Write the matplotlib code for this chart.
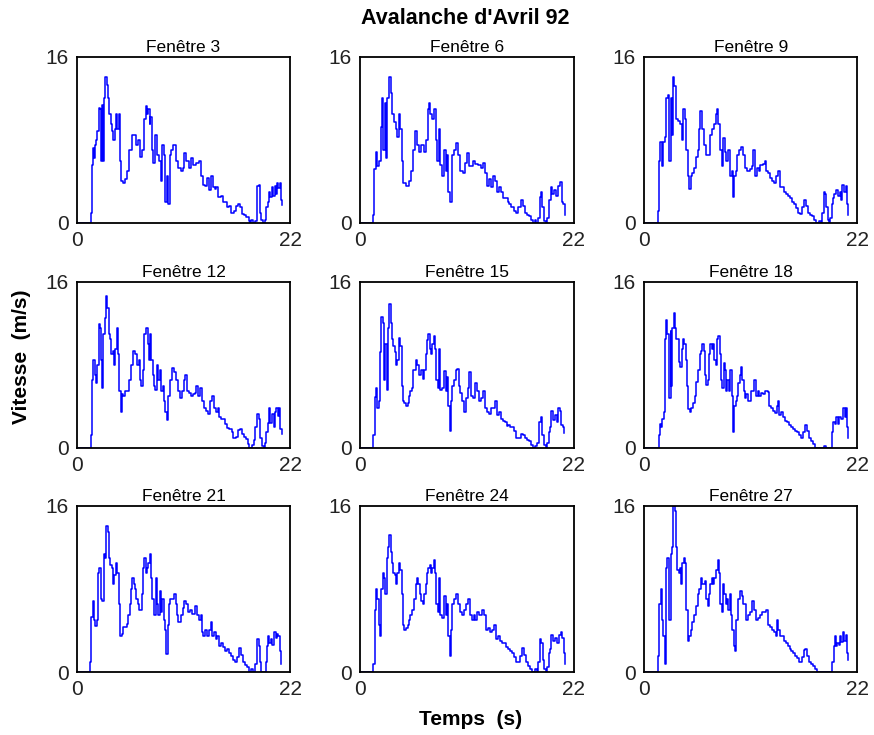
import matplotlib
matplotlib.use('Agg')
import matplotlib.pyplot as plt

# vitesse (m/s) en fonction du temps (s), une liste par fenetre
t3 = [0, 1.3, 1.44, 1.58, 1.72, 1.79, 1.93, 2.0, 2.13, 2.27,
      2.41, 2.55, 2.61, 2.68, 2.82, 2.96, 3.09, 3.23, 3.37, 3.5,
      3.64, 3.78, 3.92, 4.06, 4.19, 4.33, 4.47, 4.6, 4.74, 4.98,
      5.2, 5.4, 5.7, 5.9, 6.1, 6.3, 6.5, 6.7, 6.9, 7.1,
      7.2, 7.35, 7.5, 7.6, 7.8, 7.9, 8.1, 8.3, 8.45, 8.66,
      8.8, 8.94, 9.1, 9.28, 9.42, 9.56, 9.76, 9.97, 10.2, 10.4,
      10.7, 10.9, 11.1, 11.3, 11.55, 11.75, 12.0, 12.3, 12.6, 12.8,
      13.0, 13.2, 13.4, 13.6, 13.8, 14.0, 14.2, 14.4, 14.6, 14.85,
      15.05, 15.25, 15.5, 15.7, 15.9, 16.2, 16.4, 16.6, 16.8, 17.0,
      17.2, 17.4, 17.7, 17.9, 18.0, 18.15, 18.4, 18.6, 18.8, 18.9,
      19.0, 19.2, 19.4, 19.5, 19.7, 19.8, 19.9, 20.1, 20.25, 20.4,
      20.5, 20.6, 20.75, 20.9, 21.0, 21.1]
v3 = [0, 0, 1.0, 5.6, 7.2, 6.2, 7.5, 8.0, 8.8, 11.1,
      11.0, 6.0, 11.3, 6.0, 12.0, 14.0, 13.3, 12.0, 10.5, 9.5,
      8.8, 8.0, 9.0, 10.5, 9.0, 10.5, 6.0, 4.0, 3.8, 4.2,
      5.0, 7.0, 8.5, 8.5, 7.5, 8.0, 6.3, 7.0, 10.0, 11.2,
      10.5, 11.0, 9.5, 10.2, 7.0, 5.8, 8.5, 6.5, 6.0, 4.0,
      7.5, 6.5, 2.0, 4.5, 1.8, 6.5, 7.0, 7.5, 6.0, 5.3,
      5.0, 5.3, 6.7, 6.0, 5.3, 6.2, 5.6, 5.8, 6.0, 4.5,
      3.7, 3.6, 4.3, 3.2, 4.5, 3.5, 3.3, 3.5, 2.5, 2.6,
      2.0, 2.0, 1.5, 1.6, 1.0, 1.2, 1.6, 1.8, 1.5, 0.9,
      0.8, 0.6, 0.2, 0, 0.3, 0, 0.2, 3.6, 3.7, 1.0,
      0.3, 0, 0.3, 1.5, 2.0, 3.0, 2.5, 3.5, 2.6, 3.6,
      2.8, 3.8, 3.4, 3.8, 2.2, 1.7]

t6 = [0, 1.24, 1.31, 1.45, 1.66, 1.79, 2.0, 2.14, 2.28, 2.41,
      2.55, 2.69, 2.83, 3.03, 3.17, 3.31, 3.52, 3.66, 3.79, 4.0,
      4.14, 4.3, 4.48, 4.7, 5.0, 5.3, 5.5, 5.7, 5.9, 6.1,
      6.3, 6.55, 6.76, 6.97, 7.1, 7.24, 7.45, 7.6, 7.8, 7.97,
      8.14, 8.28, 8.48, 8.62, 8.83, 9.0, 9.1, 9.24, 9.45, 9.66,
      9.93, 10.1, 10.3, 10.6, 10.8, 11.0, 11.2, 11.45, 11.66, 11.9,
      12.2, 12.5, 12.7, 12.9, 13.1, 13.3, 13.5, 13.7, 13.9, 14.1,
      14.3, 14.55, 14.76, 14.97, 15.2, 15.4, 15.6, 15.9, 16.07, 16.3,
      16.55, 16.76, 16.97, 17.2, 17.4, 17.6, 17.8, 18.0, 18.1, 18.3,
      18.5, 18.6, 18.8, 18.97, 19.2, 19.3, 19.5, 19.66, 19.8, 20.0,
      20.2, 20.4, 20.6, 20.8, 20.9, 21.1]
v6 = [0, 0, 0.8, 5.2, 6.8, 5.5, 6.0, 9.2, 12.0, 7.0,
      11.5, 6.2, 12.0, 14.0, 12.5, 10.5, 9.7, 9.0, 8.3, 10.5,
      9.0, 6.0, 3.8, 3.6, 4.0, 5.0, 7.0, 8.8, 7.5, 6.8,
      7.5, 6.8, 8.0, 11.0, 11.5, 10.5, 10.0, 11.0, 8.0, 6.0,
      9.0, 5.6, 4.5, 7.0, 5.0, 6.5, 3.0, 2.0, 6.5, 7.0,
      7.7, 6.5, 5.0, 4.8, 5.8, 6.7, 5.5, 5.5, 6.0, 5.7,
      5.6, 5.3, 5.8, 4.8, 3.6, 4.2, 3.5, 4.5, 4.0, 3.0,
      3.5, 3.0, 2.4, 2.4, 2.0, 1.8, 1.5, 1.2, 1.0, 1.5,
      2.2, 1.6, 1.0, 0.8, 0.7, 0.3, 0, 0.3, 0, 0.5,
      2.5, 3.0, 1.5, 0.2, 0, 0.5, 2.2, 3.5, 2.8, 3.2,
      2.6, 3.6, 3.9, 2.0, 1.8, 0.8]

t9 = [0, 1.3, 1.44, 1.57, 1.7, 1.85, 1.98, 2.12, 2.26, 2.46,
      2.6, 2.74, 2.87, 3.0, 3.14, 3.28, 3.49, 3.7, 3.9, 4.04,
      4.24, 4.38, 4.5, 4.65, 4.8, 5.0, 5.2, 5.4, 5.54, 5.68,
      5.8, 6.0, 6.16, 6.36, 6.57, 6.77, 6.98, 7.18, 7.4, 7.5,
      7.66, 7.87, 8.0, 8.14, 8.35, 8.49, 8.7, 8.83, 9.03, 9.17,
      9.3, 9.44, 9.58, 9.8, 9.99, 10.2, 10.4, 10.6, 10.9, 11.1,
      11.2, 11.4, 11.6, 11.84, 12.0, 12.25, 12.45, 12.6, 12.8, 13.0,
      13.2, 13.4, 13.6, 13.8, 14.0, 14.2, 14.4, 14.6, 14.85, 15.05,
      15.26, 15.47, 15.67, 15.9, 16.1, 16.3, 16.5, 16.7, 16.9, 17.1,
      17.3, 17.5, 17.7, 18.0, 18.2, 18.3, 18.5, 18.7, 18.8, 18.95,
      19.1, 19.2, 19.4, 19.5, 19.6, 19.8, 20.0, 20.2, 20.3, 20.45,
      20.65, 20.8, 20.9, 21.0]
v9 = [0, 0, 1.2, 6.0, 7.8, 5.5, 7.8, 8.3, 12.0, 12.3,
      6.0, 12.0, 8.5, 14.0, 13.2, 10.0, 9.8, 9.5, 8.0, 11.0,
      10.0, 7.0, 4.5, 3.3, 4.5, 4.8, 5.3, 6.3, 7.0, 9.0,
      10.8, 9.0, 7.5, 6.5, 6.5, 8.5, 9.0, 9.5, 10.5, 11.0,
      9.5, 7.0, 5.5, 8.2, 6.8, 6.0, 7.0, 4.5, 5.0, 2.5,
      4.5, 5.0, 6.5, 7.0, 7.3, 6.5, 5.3, 5.0, 5.2, 5.5,
      7.0, 4.5, 5.3, 5.0, 5.6, 5.7, 6.0, 5.0, 4.8, 4.3,
      4.0, 3.8, 4.5, 5.0, 3.5, 3.5, 3.0, 2.8, 2.6, 2.4,
      2.0, 1.8, 1.4, 1.0, 0.9, 1.5, 2.2, 1.6, 1.0, 0.8,
      0.7, 0.3, 0, 0.2, 0, 1.0, 3.0, 2.8, 1.5, 0.3,
      0, 0.5, 1.8, 2.4, 2.8, 3.2, 2.6, 3.0, 2.2, 3.7,
      3.0, 3.6, 1.8, 0.8]

t12 = [0, 1.3, 1.44, 1.58, 1.72, 1.86, 2.0, 2.13, 2.27, 2.4,
       2.54, 2.6, 2.75, 2.89, 3.02, 3.16, 3.3, 3.44, 3.58, 3.7,
       3.85, 3.99, 4.1, 4.26, 4.4, 4.54, 4.67, 4.8, 5.0, 5.2,
       5.43, 5.64, 5.84, 6.05, 6.26, 6.4, 6.53, 6.67, 6.8, 6.94,
       7.15, 7.3, 7.4, 7.56, 7.7, 7.84, 7.98, 8.1, 8.25, 8.4,
       8.6, 8.73, 8.87, 9.0, 9.14, 9.28, 9.42, 9.6, 9.83, 10.0,
       10.2, 10.45, 10.66, 10.86, 11.07, 11.2, 11.34, 11.55, 11.76, 11.96,
       12.17, 12.3, 12.5, 12.7, 12.9, 13.1, 13.34, 13.54, 13.75, 13.96,
       14.16, 14.37, 14.6, 14.7, 14.9, 15.1, 15.3, 15.5, 15.7, 15.95,
       16.15, 16.36, 16.57, 16.8, 16.98, 17.19, 17.4, 17.6, 17.8, 18.1,
       18.3, 18.4, 18.56, 18.77, 18.9, 19.04, 19.25, 19.4, 19.5, 19.66,
       19.8, 19.94, 20.14, 20.3, 20.42, 20.56, 20.7, 20.83, 20.97, 21.1]
v12 = [0, 0, 1.2, 6.5, 8.5, 7.0, 6.2, 8.0, 11.9, 11.5,
       8.5, 5.8, 11.0, 12.5, 14.6, 13.5, 11.0, 10.5, 9.0, 9.3,
       8.0, 9.5, 11.5, 9.0, 5.5, 3.5, 5.2, 5.0, 5.5, 5.5,
       6.5, 8.0, 9.3, 9.0, 8.0, 8.5, 6.5, 6.0, 7.5, 11.0,
       11.5, 10.0, 8.5, 11.0, 8.5, 7.0, 6.0, 5.6, 8.0, 6.5,
       7.5, 5.5, 6.0, 4.5, 3.5, 2.7, 5.0, 6.5, 7.7, 7.3,
       6.5, 5.5, 4.8, 5.5, 6.5, 7.0, 5.5, 5.3, 5.0, 5.2,
       5.3, 6.0, 5.0, 5.8, 4.5, 3.8, 3.6, 3.3, 4.5, 5.0,
       3.8, 3.5, 3.8, 3.0, 2.8, 2.8, 2.3, 1.9, 1.8, 1.5,
       1.0, 1.1, 1.7, 1.8, 1.3, 1.1, 0.9, 0.4, 0, 0.3,
       0.8, 2.0, 3.3, 2.8, 1.0, 0.2, 0, 0.5, 1.5, 2.4,
       3.8, 2.4, 3.3, 2.0, 3.5, 3.8, 3.1, 3.8, 1.8, 1.3]

t15 = [0, 1.24, 1.38, 1.52, 1.66, 1.8, 1.93, 2.07, 2.2, 2.34,
       2.48, 2.62, 2.76, 2.9, 3.03, 3.17, 3.31, 3.45, 3.59, 3.72,
       3.86, 4.0, 4.14, 4.28, 4.4, 4.55, 4.76, 4.9, 5.03, 5.17,
       5.38, 5.5, 5.72, 5.86, 6.07, 6.28, 6.48, 6.62, 6.76, 6.9,
       7.03, 7.17, 7.3, 7.45, 7.59, 7.72, 7.86, 8.0, 8.14, 8.28,
       8.48, 8.69, 8.83, 8.97, 9.1, 9.24, 9.38, 9.52, 9.66, 9.86,
       10.0, 10.2, 10.34, 10.55, 10.76, 10.9, 11.1, 11.24, 11.45, 11.66,
       11.86, 12.07, 12.28, 12.48, 12.7, 12.9, 13.1, 13.3, 13.5, 13.7,
       13.86, 14.07, 14.28, 14.48, 14.7, 14.9, 15.1, 15.3, 15.5, 15.7,
       15.9, 16.1, 16.3, 16.55, 16.76, 16.97, 17.17, 17.4, 17.6, 17.8,
       18.07, 18.28, 18.4, 18.6, 18.8, 18.97, 19.17, 19.3, 19.45, 19.59,
       19.7, 19.86, 20.07, 20.28, 20.4, 20.6, 20.76, 20.9, 21.03]
v15 = [0, 0, 1.2, 4.9, 5.8, 3.8, 4.5, 9.2, 12.6, 12.0,
       6.5, 10.0, 5.6, 11.5, 13.8, 12.0, 10.5, 9.8, 9.2, 8.0,
       8.5, 10.6, 9.8, 6.0, 4.5, 4.3, 4.0, 4.3, 5.0, 5.5,
       5.8, 7.5, 8.5, 8.0, 7.0, 7.5, 6.6, 7.5, 9.0, 10.4,
       11.0, 9.5, 9.0, 10.0, 10.8, 9.5, 6.5, 5.8, 9.5, 5.6,
       5.8, 7.4, 5.5, 6.8, 4.0, 1.6, 4.5, 6.0, 6.5, 7.5,
       7.6, 6.0, 5.3, 4.5, 3.5, 4.8, 5.8, 7.3, 5.0, 4.8,
       6.2, 5.5, 4.5, 4.8, 5.5, 3.8, 3.5, 3.3, 3.8, 3.8,
       4.5, 3.2, 3.5, 2.8, 2.6, 2.5, 2.1, 2.2, 2.0, 2.0,
       1.6, 1.0, 1.0, 1.3, 1.2, 1.0, 0.8, 0.7, 0.3, 0,
       0.2, 0.5, 2.5, 3.0, 1.2, 0.3, 0, 0.5, 1.5, 2.0,
       3.6, 2.7, 3.2, 2.5, 3.8, 3.6, 2.2, 2.0, 1.4]

t18 = [0, 1.37, 1.5, 1.64, 1.78, 1.9, 2.05, 2.12, 2.26, 2.4,
       2.53, 2.6, 2.74, 2.8, 2.94, 3.08, 3.2, 3.35, 3.49, 3.63,
       3.76, 3.9, 4.04, 4.17, 4.3, 4.45, 4.58, 4.7, 4.86, 5.06,
       5.27, 5.4, 5.6, 5.75, 5.88, 6.0, 6.16, 6.3, 6.43, 6.57,
       6.7, 6.84, 6.98, 7.1, 7.25, 7.4, 7.53, 7.66, 7.8, 7.94,
       8.07, 8.2, 8.35, 8.49, 8.6, 8.76, 8.9, 9.03, 9.17, 9.3,
       9.44, 9.58, 9.7, 9.85, 9.99, 10.1, 10.26, 10.4, 10.54, 10.74,
       10.95, 11.08, 11.29, 11.5, 11.7, 11.9, 12.1, 12.3, 12.5, 12.73,
       12.86, 13.07, 13.27, 13.5, 13.7, 13.8, 13.96, 14.16, 14.37, 14.58,
       14.78, 14.98, 15.19, 15.4, 15.6, 15.8, 16.0, 16.2, 16.4, 16.63,
       16.83, 17.0, 17.2, 17.45, 17.65, 18.4, 18.6, 18.8, 19.2, 19.36,
       19.5, 19.64, 19.8, 20.0, 20.1, 20.3, 20.46, 20.67, 20.8, 20.9,
       21.0]
v18 = [0, 0, 1.2, 2.3, 2.0, 2.8, 3.5, 10.5, 12.3, 11.0,
       6.0, 4.8, 11.2, 6.0, 11.5, 13.0, 11.5, 10.5, 10.5, 8.3,
       7.8, 9.5, 10.5, 10.0, 8.5, 6.0, 3.7, 3.5, 3.8, 4.3,
       5.0, 6.3, 7.5, 9.0, 9.3, 10.0, 9.3, 7.0, 6.1, 6.5,
       9.0, 10.0, 9.5, 10.0, 8.5, 8.0, 10.5, 10.8, 9.0, 6.5,
       5.8, 8.2, 7.5, 5.5, 6.5, 5.5, 7.5, 5.0, 1.5, 4.0,
       4.5, 5.0, 6.2, 7.0, 7.8, 6.5, 5.5, 4.8, 5.2, 4.5,
       4.5, 5.5, 6.5, 5.0, 5.5, 5.0, 5.3, 5.2, 5.5, 5.4,
       4.0, 3.8, 3.6, 3.4, 4.0, 4.5, 3.2, 3.5, 3.0, 2.6,
       2.5, 2.2, 2.0, 1.8, 1.6, 1.5, 1.2, 1.0, 1.5, 2.2,
       1.6, 1.0, 0.7, 0.4, 0, 0, 0.2, 0, 0, 1.5,
       2.5, 2.3, 3.0, 2.3, 3.0, 2.8, 3.8, 3.0, 3.8, 2.0,
       1.0]

t21 = [0, 1.24, 1.38, 1.52, 1.66, 1.8, 1.93, 2.07, 2.2, 2.34,
       2.48, 2.62, 2.76, 2.9, 3.03, 3.17, 3.31, 3.45, 3.59, 3.72,
       3.86, 4.07, 4.2, 4.34, 4.48, 4.62, 4.76, 4.97, 5.17, 5.3,
       5.45, 5.58, 5.72, 5.86, 6.0, 6.14, 6.28, 6.41, 6.55, 6.7,
       6.83, 6.97, 7.1, 7.24, 7.38, 7.52, 7.66, 7.8, 7.93, 8.14,
       8.28, 8.4, 8.55, 8.69, 8.83, 8.97, 9.1, 9.24, 9.38, 9.52,
       9.66, 9.86, 10.07, 10.2, 10.34, 10.48, 10.7, 10.9, 11.1, 11.3,
       11.5, 11.7, 11.9, 12.14, 12.35, 12.55, 12.76, 12.9, 13.03, 13.17,
       13.4, 13.6, 13.8, 13.93, 14.14, 14.34, 14.48, 14.62, 14.83, 15.03,
       15.24, 15.45, 15.66, 15.86, 16.07, 16.27, 16.48, 16.7, 16.9, 17.1,
       17.3, 17.52, 17.7, 17.99, 18.2, 18.4, 18.55, 18.76, 18.9, 19.03,
       19.3, 19.45, 19.6, 19.72, 19.86, 20.0, 20.14, 20.3, 20.48, 20.6,
       20.76, 20.9, 21.03]
v21 = [0, 0, 1.0, 5.3, 6.8, 5.0, 4.4, 5.0, 9.5, 10.0,
       7.0, 6.8, 11.3, 11.0, 14.0, 13.5, 11.0, 10.3, 10.0, 8.5,
       9.3, 10.5, 9.5, 6.5, 3.5, 3.7, 4.3, 4.3, 4.6, 5.5,
       6.5, 8.0, 9.0, 8.5, 8.0, 7.0, 6.5, 6.0, 6.0, 7.5,
       10.0, 11.0, 9.5, 10.0, 10.5, 11.3, 9.0, 7.0, 5.5, 9.0,
       6.5, 5.5, 7.8, 5.8, 7.0, 5.0, 4.0, 1.7, 4.5, 6.5,
       7.0, 7.0, 7.5, 6.5, 5.5, 4.8, 5.5, 6.2, 6.8, 6.5,
       5.8, 6.0, 5.6, 6.3, 5.5, 5.0, 5.5, 3.8, 3.5, 4.0,
       3.5, 4.0, 4.8, 3.5, 3.8, 3.2, 3.5, 2.5, 2.8, 2.4,
       2.0, 2.2, 1.8, 1.5, 1.2, 1.0, 1.4, 2.3, 1.6, 1.0,
       0.7, 0.5, 0, 0.3, 0, 0.8, 3.2, 2.5, 1.0, 0,
       0, 1.0, 2.5, 3.5, 2.8, 3.2, 2.6, 3.8, 3.3, 3.7,
       3.5, 2.0, 0.8]

t24 = [0, 1.24, 1.38, 1.52, 1.66, 1.8, 1.93, 2.07, 2.2, 2.34,
       2.48, 2.62, 2.76, 2.9, 3.03, 3.17, 3.31, 3.45, 3.59, 3.72,
       3.86, 4.0, 4.14, 4.28, 4.41, 4.55, 4.69, 4.9, 5.03, 5.17,
       5.31, 5.52, 5.72, 5.86, 6.0, 6.14, 6.28, 6.48, 6.62, 6.76,
       6.9, 7.03, 7.17, 7.3, 7.45, 7.59, 7.72, 7.86, 8.0, 8.14,
       8.28, 8.48, 8.62, 8.83, 8.97, 9.1, 9.24, 9.38, 9.52, 9.72,
       9.93, 10.1, 10.34, 10.55, 10.7, 10.9, 11.1, 11.3, 11.5, 11.7,
       11.9, 12.1, 12.3, 12.55, 12.76, 12.97, 13.17, 13.38, 13.6, 13.8,
       14.0, 14.2, 14.4, 14.6, 14.83, 15.03, 15.24, 15.45, 15.66, 15.86,
       16.07, 16.28, 16.48, 16.7, 16.9, 17.1, 17.3, 17.5, 17.7, 18.0,
       18.2, 18.35, 18.5, 18.7, 18.83, 18.97, 19.17, 19.3, 19.45, 19.59,
       19.7, 19.93, 20.07, 20.28, 20.48, 20.7, 20.83, 20.97, 21.1]
v24 = [0, 0, 0.8, 6.0, 8.0, 7.0, 4.5, 3.5, 8.0, 9.5,
       9.0, 7.5, 11.0, 12.0, 13.2, 11.5, 10.5, 9.5, 9.3, 8.5,
       9.5, 10.5, 9.8, 7.5, 4.5, 4.0, 4.2, 4.5, 5.0, 5.5,
       6.0, 7.0, 8.5, 9.0, 8.5, 7.5, 6.8, 6.5, 7.5, 8.5,
       9.5, 10.0, 10.3, 9.5, 10.0, 10.8, 9.5, 6.5, 5.8, 9.0,
       5.5, 5.2, 7.3, 5.5, 6.5, 3.5, 1.5, 4.0, 6.5, 7.0,
       7.5, 6.5, 5.8, 5.5, 6.0, 6.5, 7.0, 5.5, 5.0, 5.5,
       5.0, 5.8, 5.5, 6.0, 5.5, 4.0, 4.2, 3.8, 4.0, 4.5,
       3.2, 3.5, 3.0, 2.8, 2.8, 2.4, 2.2, 2.0, 1.8, 1.4,
       1.0, 1.0, 1.5, 2.3, 1.6, 1.0, 0.6, 0.3, 0, 0.3,
       0, 1.0, 3.2, 2.8, 1.2, 0.3, 0, 0.5, 1.8, 2.2,
       3.6, 3.0, 3.3, 2.8, 3.6, 3.8, 3.3, 1.8, 0.8]

t27 = [0, 1.3, 1.44, 1.58, 1.71, 1.85, 1.99, 2.12, 2.26, 2.4,
       2.54, 2.6, 2.74, 2.88, 3.0, 3.15, 3.29, 3.43, 3.56, 3.7,
       3.84, 3.97, 4.1, 4.25, 4.38, 4.52, 4.66, 4.8, 5.0, 5.2,
       5.35, 5.55, 5.69, 5.83, 5.96, 6.1, 6.3, 6.44, 6.58, 6.71,
       6.85, 6.99, 7.13, 7.26, 7.4, 7.6, 7.74, 7.88, 8.0, 8.15,
       8.29, 8.43, 8.57, 8.7, 8.84, 8.98, 9.1, 9.25, 9.39, 9.53,
       9.66, 9.87, 10.07, 10.2, 10.4, 10.55, 10.76, 10.97, 11.17, 11.38,
       11.58, 11.8, 12.0, 12.2, 12.4, 12.6, 12.8, 12.95, 13.16, 13.36,
       13.57, 13.7, 13.84, 13.98, 14.19, 14.39, 14.6, 14.8, 15.0, 15.2,
       15.4, 15.6, 15.8, 16.0, 16.24, 16.45, 16.58, 16.8, 17.0, 17.2,
       17.4, 17.6, 17.8, 19.26, 19.4, 19.53, 19.67, 19.8, 19.94, 20.1,
       20.2, 20.35, 20.5, 20.63, 20.77, 20.9, 21.04]
v27 = [0, 0, 1.5, 6.5, 8.0, 5.0, 3.5, 0.8, 10.0, 11.0,
       8.0, 5.0, 11.3, 12.0, 16.0, 15.5, 12.0, 9.8, 9.5, 10.0,
       8.5, 10.5, 11.0, 10.5, 6.0, 3.0, 3.5, 4.0, 4.8, 5.5,
       6.3, 7.5, 8.0, 9.0, 8.5, 8.5, 8.7, 7.0, 6.3, 7.5,
       8.5, 9.0, 8.5, 9.0, 9.8, 10.8, 9.5, 6.5, 5.8, 8.5,
       7.5, 6.5, 7.0, 6.0, 7.5, 5.5, 4.0, 2.5, 2.0, 5.0,
       7.0, 7.8, 7.3, 6.5, 6.5, 5.0, 5.5, 5.8, 6.8, 6.0,
       5.0, 5.2, 5.5, 5.8, 5.8, 6.0, 4.5, 4.3, 4.0, 3.8,
       3.5, 5.0, 4.0, 3.5, 3.5, 3.0, 2.8, 2.5, 2.2, 2.0,
       1.8, 1.5, 1.3, 1.0, 1.4, 2.1, 2.2, 1.5, 1.0, 0.8,
       0.6, 0.3, 0, 0, 1.0, 2.5, 3.5, 2.5, 2.8, 2.6,
       3.5, 2.9, 3.8, 3.0, 3.6, 1.8, 1.2]

fenetres = [3, 6, 9, 12, 15, 18, 21, 24, 27]
temps = [t3, t6, t9, t12, t15, t18, t21, t24, t27]
vitesses = [v3, v6, v9, v12, v15, v18, v21, v24, v27]

plt.rcParams['font.family'] = ['Liberation Sans', 'DejaVu Sans']

fig = plt.figure(figsize=(8.74, 7.35), dpi=100)

# positions des 9 cadres (fraction de la figure)
lefts = [0.0878, 0.4119, 0.7368]
bottoms = [0.6966, 0.3905, 0.0857]
w, h = 0.2443, 0.2265

for i, (num, t, v) in enumerate(zip(fenetres, temps, vitesses)):
    ax = fig.add_axes([lefts[i % 3], bottoms[i // 3], w, h])
    ax.plot(t, v, color='#0000ff', lw=1.1, drawstyle='steps-post')
    ax.set_xlim(0, 22)
    ax.set_ylim(0, 16)
    ax.set_xticks([0, 22])
    ax.set_yticks([0, 16])
    ax.tick_params(length=0, labelsize=15, pad=6, colors='#222222')
    for s in ax.spines.values():
        s.set_linewidth(1.3)
    ax.set_title(f'Fenêtre {num}', fontsize=12.5, pad=3)

fig.text(0.532, 0.9755, "Avalanche d'Avril 92", ha='center', va='center',
         fontsize=15.5, fontweight='bold')
fig.text(0.025, 0.514, 'Vitesse  (m/s)', rotation=90, ha='center', va='center',
         fontsize=15, fontweight='bold')
fig.text(0.538, 0.0205, 'Temps  (s)', ha='center', va='center',
         fontsize=15, fontweight='bold')

fig.savefig('out.png', dpi=100)
